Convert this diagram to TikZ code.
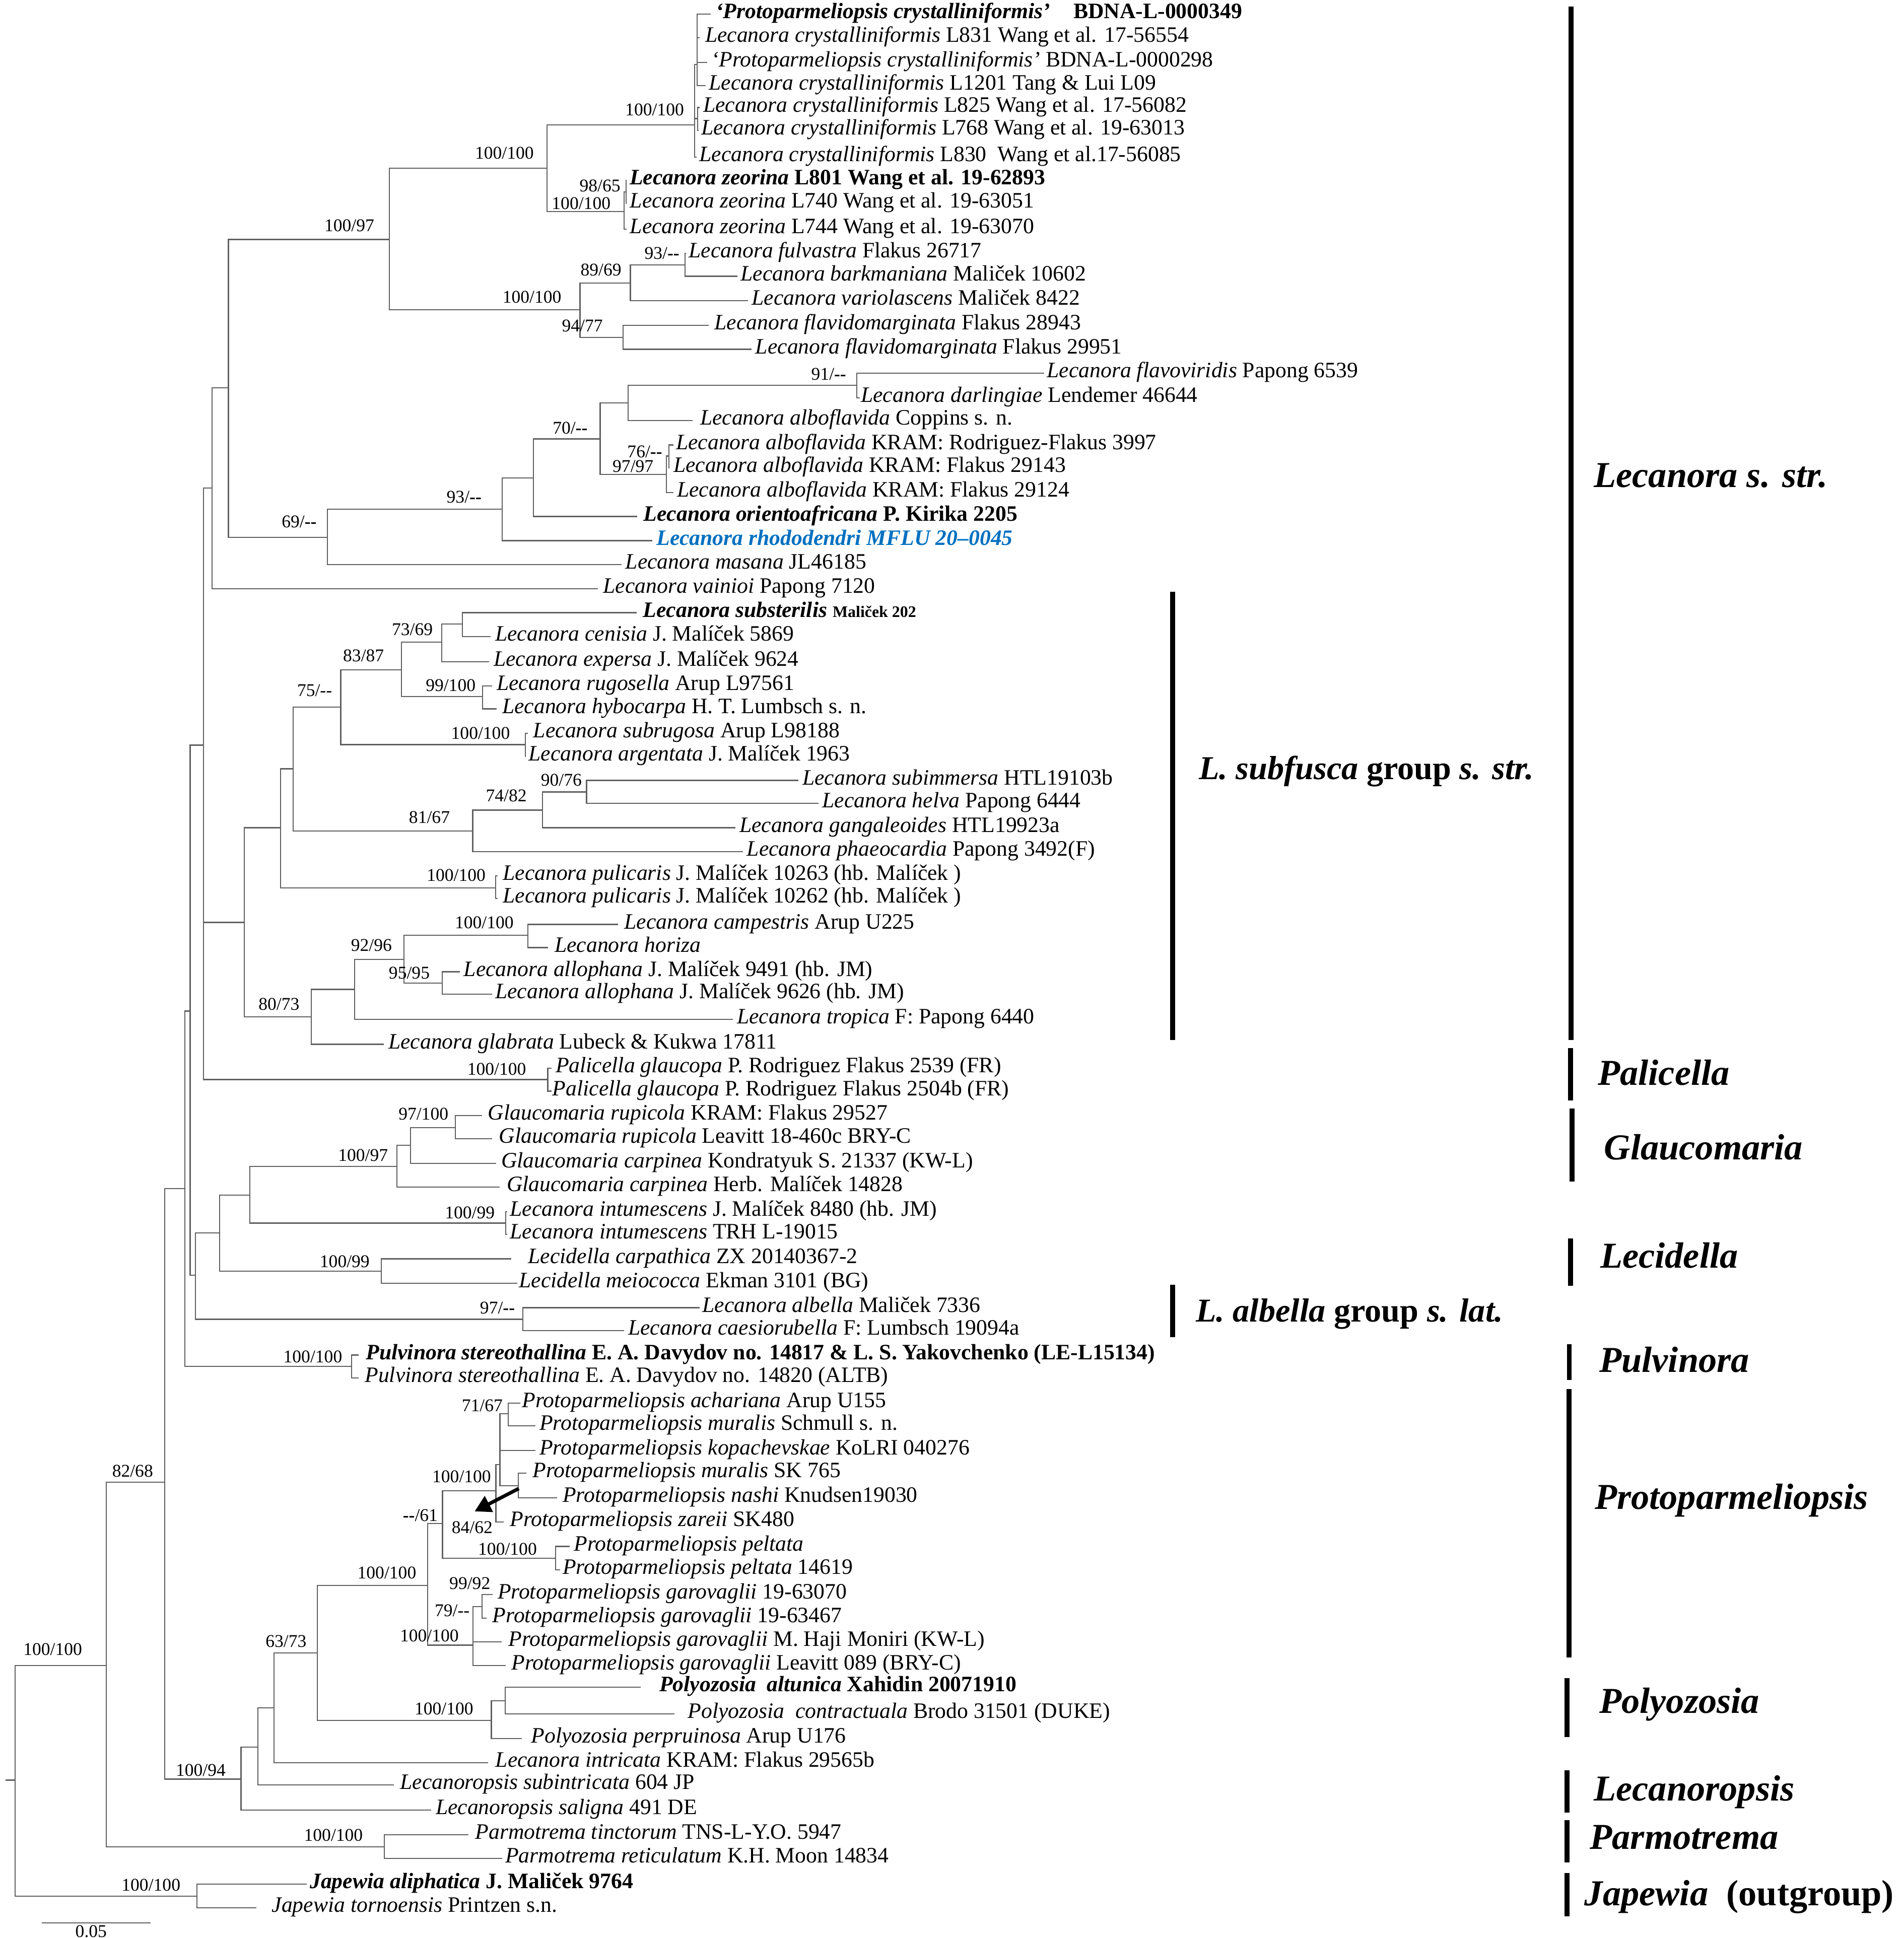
\documentclass[tikz,border=0pt]{standalone}
\usepackage{fontspec}
\setmainfont{Liberation Serif}
\usetikzlibrary{arrows.meta}
\definecolor{linkblue}{RGB}{0,112,192}
\definecolor{brc}{RGB}{95,95,95}
\tikzset{
 br/.style={draw=brc, line width=0.9pt},
 leaf/.style={anchor=base west, inner sep=0pt, font=\fontsize{17.8}{20}\selectfont},
 supp/.style={anchor=base east, inner sep=0pt, font=\fontsize{14.5}{17}\selectfont},
 grp/.style={anchor=base west, inner sep=0pt, font=\fontsize{29.5}{33}\selectfont\bfseries\itshape},
 grps/.style={anchor=base west, inner sep=0pt, font=\fontsize{27}{31}\selectfont\bfseries},
 grpbar/.style={line width=4pt, black},
}
\newcommand\myleaf[5]{\coordinate (#1) at (#2,#3);\node[leaf] (#1t) at (#4,#3+3.5) {#5};}
\newcommand\myedges[2]{\foreach \kid in {#2}{\draw[br] (#1) |- (\kid);}}
\newcommand\mysupv[4]{\node[supp] (#1) at (#2,#3) {#4};}
\newcommand\mydsh{\textbf{-{}-}}
\begin{document}
\begin{tikzpicture}[x=1pt,y=-1pt]
\useasboundingbox (0,0) rectangle (1540,1568);
% ---------------- leaves ----------------
\myleaf{L1}{575}{11.5}{579}{\textbf{\textit{‘Protoparmeliopsis crystalliniformis’}\hspace{0.8em} BDNA-L-0000349}}
\myleaf{L2}{566}{30.6}{570.3}{\textit{Lecanora crystalliniformis} L831 Wang et al. 17-56554}
\myleaf{L3}{572}{50.5}{575.5}{\textit{‘Protoparmeliopsis crystalliniformis’} BDNA-L-0000298}
\myleaf{L4}{571}{69.3}{573.4}{\textit{Lecanora crystalliniformis} L1201 Tang \& Lui L09}
\myleaf{L5}{566}{87}{568.7}{\textit{Lecanora crystalliniformis} L825 Wang et al. 17-56082}
\myleaf{L6}{565}{105.5}{567.1}{\textit{Lecanora crystalliniformis} L768 Wang et al. 19-63013}
\myleaf{L7}{563.5}{127}{565.6}{\textit{Lecanora crystalliniformis} L830\ \ Wang et al.17-56085}
\myleaf{L8}{507}{146}{509.2}{\textbf{\textit{Lecanora zeorina} L801 Wang et al. 19-62893}}
\myleaf{L9}{507}{164.5}{509.5}{\textit{Lecanora zeorina} L740 Wang et al. 19-63051}
\myleaf{L10}{507}{185.5}{509.5}{\textit{Lecanora zeorina} L744 Wang et al. 19-63070}
\myleaf{L11}{555}{205}{557}{\textit{Lecanora fulvastra} Flakus 26717}
\myleaf{L12}{596.4}{223.5}{599}{\textit{Lecanora barkmaniana} Maliček 10602}
\myleaf{L13}{605}{243.3}{608}{\textit{Lecanora variolascens} Maliček 8422}
\myleaf{L14}{573.5}{263.3}{577.8}{\textit{Lecanora flavidomarginata} Flakus 28943}
\myleaf{L15}{608}{282.6}{611}{\textit{Lecanora flavidomarginata} Flakus 29951}
\myleaf{L16}{844.7}{301.9}{846.8}{\textit{Lecanora flavoviridis} Papong 6539}
\myleaf{L17}{695.5}{321.8}{696.3}{\textit{Lecanora darlingiae} Lendemer 46644}
\myleaf{L18}{560.4}{340.2}{566.2}{\textit{Lecanora alboflavida} Coppins s. n.}
\myleaf{L19}{545}{360}{546.7}{\textit{Lecanora alboflavida} KRAM: Rodriguez-Flakus 3997}
\myleaf{L20}{541.5}{378.5}{544.6}{\textit{Lecanora alboflavida} KRAM: Flakus 29143}
\myleaf{L21}{545}{398.5}{547.5}{\textit{Lecanora alboflavida} KRAM: Flakus 29124}
\myleaf{L22}{515.5}{417.9}{520.5}{\textbf{\textit{Lecanora orientoafricana} P. Kirika 2205}}
\myleaf{L23}{527.8}{437.4}{530.9}{\color{linkblue}\textbf{\textit{Lecanora rhododendri MFLU 20–0045}}}
\myleaf{L24}{502.9}{456.9}{505.8}{\textit{Lecanora masana} JL46185}
\myleaf{L25}{483.5}{476.4}{487.8}{\textit{Lecanora vainioi} Papong 7120}
\myleaf{L26}{515}{495.7}{520.1}{\textbf{\textit{Lecanora substerilis}} {\fontsize{13}{15}\selectfont\textbf{Maliček 202}}}
\myleaf{L27}{396.7}{514.9}{400.4}{\textit{Lecanora cenisia} J. Malíček 5869}
\myleaf{L28}{395.5}{535.5}{399.2}{\textit{Lecanora expersa} J. Malíček 9624}
\myleaf{L29}{398}{555}{401.6}{\textit{Lecanora rugosella} Arup L97561}
\myleaf{L30}{401.7}{573.5}{406.1}{\textit{Lecanora hybocarpa} H. T. Lumbsch s. n.}
\myleaf{L31}{427}{593.2}{431.3}{\textit{Lecanora subrugosa} Arup L98188}
\myleaf{L32}{425.5}{612}{427.5}{\textit{Lecanora argentata} J. Malíček 1963}
\myleaf{L33}{646}{631.4}{649}{\textit{Lecanora subimmersa} HTL19103b}
\myleaf{L34}{662}{649.9}{665}{\textit{Lecanora helva} Papong 6444}
\myleaf{L35}{595}{669.7}{598}{\textit{Lecanora gangaleoides} HTL19923a}
\myleaf{L36}{601}{688.9}{604}{\textit{Lecanora phaeocardia} Papong 3492(F)}
\myleaf{L37}{402.5}{708.5}{406.6}{\textit{Lecanora pulicaris} J. Malíček 10263 (hb. Malíček )}
\myleaf{L38}{402.5}{727}{406.6}{\textit{Lecanora pulicaris} J. Malíček 10262 (hb. Malíček )}
\myleaf{L39}{500.1}{747.9}{504.8}{\textit{Lecanora campestris} Arup U225}
\myleaf{L40}{443.3}{766.7}{448.5}{\textit{Lecanora horiza}}
\myleaf{L41}{372}{786.2}{375}{\textit{Lecanora allophana} J. Malíček 9491 (hb. JM)}
\myleaf{L42}{398}{804.4}{400.4}{\textit{Lecanora allophana} J. Malíček 9626 (hb. JM)}
\myleaf{L43}{593}{824.7}{596}{\textit{Lecanora tropica} F: Papong 6440}
\myleaf{L44}{310.3}{844.9}{314}{\textit{Lecanora glabrata} Lubeck \& Kukwa 17811}
\myleaf{L45}{446}{864.2}{449.3}{\textit{Palicella glaucopa} P. Rodriguez Flakus 2539 (FR)}
\myleaf{L46}{446}{882.8}{446.8}{\textit{Palicella glaucopa} P. Rodriguez Flakus 2504b (FR)}
\myleaf{L47}{390}{902.5}{394.5}{\textit{Glaucomaria rupicola} KRAM: Flakus 29527}
\myleaf{L48}{398.2}{921.3}{403.6}{\textit{Glaucomaria rupicola} Leavitt 18-460c BRY-C}
\myleaf{L49}{401.2}{941.3}{405.3}{\textit{Glaucomaria carpinea} Kondratyuk S. 21337 (KW-L)}
\myleaf{L50}{404.4}{960.5}{409.8}{\textit{Glaucomaria carpinea} Herb. Malíček 14828}
\myleaf{L51}{410.5}{980.3}{412.3}{\textit{Lecanora intumescens} J. Malíček 8480 (hb. JM)}
\myleaf{L52}{410.5}{998.8}{412.3}{\textit{Lecanora intumescens} TRH L-19015}
\myleaf{L53}{413.5}{1018.5}{427.1}{\textit{Lecidella carpathica} ZX 20140367-2}
\myleaf{L54}{418.4}{1038.3}{419.7}{\textit{Lecidella meiococca} Ekman 3101 (BG)}
\myleaf{L55}{566}{1058}{568}{\textit{Lecanora albella} Maliček 7336}
\myleaf{L56}{505}{1076.5}{508}{\textit{Lecanora caesiorubella} F: Lumbsch 19094a}
\myleaf{L57}{290}{1096.3}{295.8}{\textbf{\textit{Pulvinora stereothallina} E. A. Davydov no. 14817 \& L. S. Yakovchenko (LE-L15134)}}
\myleaf{L58}{290}{1114.8}{295}{\textit{Pulvinora stereothallina} E. A. Davydov no. 14820 (ALTB)}
\myleaf{L59}{421}{1135.2}{422.2}{\textit{Protoparmeliopsis achariana} Arup U155}
\myleaf{L60}{433.3}{1153.7}{436.3}{\textit{Protoparmeliopsis muralis} Schmull s. n.}
\myleaf{L61}{433.3}{1173.5}{436.3}{\textit{Protoparmeliopsis kopachevskae} KoLRI 040276}
\myleaf{L62}{426}{1192}{430.8}{\textit{Protoparmeliopsis muralis} SK 765}
\myleaf{L63}{450.6}{1212}{455}{\textit{Protoparmeliopsis nashi} Knudsen19030}
\myleaf{L64}{407.4}{1231.5}{412.3}{\textit{Protoparmeliopsis zareii} SK480}
\myleaf{L65}{461}{1251.2}{464.2}{\textit{Protoparmeliopsis peltata}}
\myleaf{L66}{453}{1270}{455}{\textit{Protoparmeliopsis peltata} 14619}
\myleaf{L67}{398.7}{1290.2}{402.4}{\textit{Protoparmeliopsis garovaglii} 19-63070}
\myleaf{L68}{393.8}{1309.2}{398.3}{\textit{Protoparmeliopsis garovaglii} 19-63467}
\myleaf{L69}{406}{1328.5}{411.1}{\textit{Protoparmeliopsis garovaglii} M. Haji Moniri (KW-L)}
\myleaf{L70}{409}{1347.5}{413.6}{\textit{Protoparmeliopsis garovaglii} Leavitt 089 (BRY-C)}
\myleaf{L71}{518.5}{1365}{533.3}{\textbf{\textit{Polyozosia\ \ altunica} Xahidin 20071910}}
\myleaf{L72}{545.6}{1386.5}{556.2}{\textit{Polyozosia\ \ contractuala} Brodo 31501 (DUKE)}
\myleaf{L73}{422.2}{1406.7}{429.6}{\textit{Polyozosia perpruinosa} Arup U176}
\myleaf{L74}{395}{1426.2}{400.7}{\textit{Lecanora intricata} KRAM: Flakus 29565b}
\myleaf{L75}{318.5}{1444}{323.5}{\textit{Lecanoropsis subintricata} 604 JP}
\myleaf{L76}{349}{1464.4}{352.3}{\textit{Lecanoropsis saligna} 491 DE}
\myleaf{L77}{379}{1484.6}{384.4}{\textit{Parmotrema tinctorum} TNS-L-Y.O. 5947}
\myleaf{L78}{406.2}{1503.5}{408.6}{\textit{Parmotrema reticulatum} K.H. Moon 14834}
\myleaf{L79}{248}{1524.5}{250.5}{\textbf{\textit{Japewia aliphatica} J. Maliček 9764}}
\myleaf{L80}{207.3}{1543.5}{219.7}{\textit{Japewia tornoensis} Printzen s.n.}
% ---------------- internal nodes ----------------
\coordinate (rootstem) at (4.4,1440.2);
\coordinate (root) at (12.3,1440.2);
\coordinate (jap) at (159.2,1534);
\coordinate (n82) at (85.9,1347.4);
\coordinate (parm) at (310.8,1494.2);
\coordinate (n133) at (133.4,1199.3);
\coordinate (n195) at (195,1439.4);
\coordinate (n208) at (208.6,1413.5);
\coordinate (n221) at (221.7,1381.9);
\coordinate (n256) at (256.7,1337.5);
\coordinate (poly) at (397.5,1392.1);
\coordinate (n408) at (408.6,1376);
\coordinate (n346) at (346,1282.7);
\coordinate (n382) at (382.7,1331);
\coordinate (n390) at (390.1,1299.7);
\coordinate (n358) at (358,1232.7);
\coordinate (pelt) at (449.3,1260.6);
\coordinate (n401) at (401.2,1206.3);
\coordinate (n404) at (404.4,1185);
\coordinate (n411) at (411.1,1143.9);
\coordinate (n419) at (419.2,1202);
\coordinate (n150) at (149.6,961.6);
\coordinate (pulv) at (284.4,1105.6);
\coordinate (n154) at (153.8,818);
\coordinate (n165) at (164.7,602.9);
\coordinate (n158) at (158.2,1031.8);
\coordinate (n178) at (177.8,997.4);
\coordinate (n202) at (202,967);
\coordinate (glc) at (321,943.7);
\coordinate (n332) at (332,926.7);
\coordinate (n368) at (368.3,912.4);
\coordinate (intu) at (409,989.6);
\coordinate (lcd) at (308.6,1028.4);
\coordinate (n423) at (422.9,1067.4);
\coordinate (pali) at (443.1,873.4);
\coordinate (n172) at (171.5,394.8);
\coordinate (n185) at (184.8,313.8);
\coordinate (n315) at (314.9,193.8);
\coordinate (n443) at (442.6,136);
\coordinate (n562) at (561.8,101.2);
\coordinate (s1) at (564,52.3);
\coordinate (s2) at (564.5,96);
\coordinate (zeo) at (504.9,171.2);
\coordinate (z1) at (506.5,155.2);
\coordinate (n469) at (469.2,250.6);
\coordinate (n510) at (510,228.9);
\coordinate (n554) at (554.1,214.3);
\coordinate (n504) at (504,273);
\coordinate (n265) at (264.9,434.8);
\coordinate (n406) at (406.3,412);
\coordinate (n431) at (431.5,386.8);
\coordinate (n485) at (485.5,355.1);
\coordinate (n508) at (508.2,325.9);
\coordinate (n693) at (693,311.6);
\coordinate (n539) at (539.2,383.9);
\coordinate (s76) at (541,369);
\coordinate (n198) at (197.5,746.3);
\coordinate (n227) at (226.9,669.7);
\coordinate (pul) at (401.1,718.3);
\coordinate (n237) at (237,622);
\coordinate (n382b) at (382.4,672.4);
\coordinate (n439) at (438.7,655.4);
\coordinate (n474) at (474.5,640.8);
\coordinate (n276) at (275.7,572.2);
\coordinate (n425) at (425.1,602.5);
\coordinate (n325) at (324.6,541.8);
\coordinate (n390b) at (390.5,563.5);
\coordinate (n357) at (357.2,519.6);
\coordinate (n374) at (374,505);
\coordinate (n252) at (251.8,822.7);
\coordinate (n287) at (286.9,800.5);
\coordinate (n327) at (326.8,776.3);
\coordinate (n427) at (427.1,756.8);
\coordinate (n358b) at (357.7,795.5);
% ---------------- branches ----------------
\draw[br] (rootstem) -- (root);
\myedges{root}{n82,jap}
\myedges{jap}{L79,L80}
\myedges{n82}{n133,parm}
\myedges{parm}{L77,L78}
\myedges{n133}{n150,n195}
\myedges{n195}{n208,L76}
\myedges{n208}{n221,L75}
\myedges{n221}{n256,L74}
\myedges{n256}{n346,poly}
\myedges{poly}{n408,L73}
\myedges{n408}{L71,L72}
\myedges{n346}{n358,n382}
\myedges{n382}{n390,L69,L70}
\myedges{n390}{L67,L68}
\myedges{n358}{n401,pelt}
\myedges{pelt}{L65,L66}
\myedges{n401}{n404,L64}
\myedges{n404}{n411,L61,n419}
\myedges{n411}{L59,L60}
\myedges{n419}{L62,L63}
\myedges{n150}{n154,pulv}
\myedges{pulv}{L57,L58}
\myedges{n154}{n165,n158}
\myedges{n158}{n178,n423}
\myedges{n178}{n202,lcd}
\myedges{n202}{glc,intu}
\myedges{glc}{n332,L50}
\myedges{n332}{n368,L49}
\myedges{n368}{L47,L48}
\myedges{intu}{L51,L52}
\myedges{lcd}{L53,L54}
\myedges{n423}{L55,L56}
\myedges{n165}{n172,n198,pali}
\myedges{pali}{L45,L46}
\myedges{n172}{n185,L25}
\myedges{n185}{n315,n265}
\myedges{n315}{n443,n469}
\myedges{n443}{n562,zeo}
\myedges{n562}{s1,s2,L7}
\myedges{s1}{L1,L2,L3,L4}
\myedges{s2}{L5,L6}
\myedges{zeo}{z1,L10}
\myedges{z1}{L8,L9}
\myedges{n469}{n510,n504}
\myedges{n510}{n554,L13}
\myedges{n554}{L11,L12}
\myedges{n504}{L14,L15}
\myedges{n265}{n406,L24}
\myedges{n406}{n431,L23}
\myedges{n431}{n485,L22}
\myedges{n485}{n508,n539}
\myedges{n508}{n693,L18}
\myedges{n693}{L16,L17}
\myedges{n539}{s76,L21}
\myedges{s76}{L19,L20}
\myedges{n198}{n227,n252}
\myedges{n227}{n237,pul}
\myedges{pul}{L37,L38}
\myedges{n237}{n276,n382b}
\myedges{n382b}{n439,L36}
\myedges{n439}{n474,L35}
\myedges{n474}{L33,L34}
\myedges{n276}{n325,n425}
\myedges{n425}{L31,L32}
\myedges{n325}{n357,n390b}
\myedges{n390b}{L29,L30}
\myedges{n357}{n374,L28}
\myedges{n374}{L26,L27}
\myedges{n252}{n287,L44}
\myedges{n287}{n327,L43}
\myedges{n327}{n427,n358b}
\myedges{n427}{L39,L40}
\myedges{n358b}{L41,L42}
% ---------------- support values ----------------
\mysupv{s01}{553.5}{93.5}{100/100}
\mysupv{s02}{432}{128.6}{100/100}
\mysupv{s03}{302.9}{187.1}{100/97}
\mysupv{s04}{502.1}{155.1}{98/65}
\mysupv{s05}{494.1}{169.2}{100/100}
\mysupv{s06}{549.8}{209.7}{93/\mydsh}
\mysupv{s07}{502.9}{223}{89/69}
\mysupv{s08}{454.3}{244.9}{100/100}
\mysupv{s09}{487.8}{268.3}{94/77}
\mysupv{s10}{684.7}{307.6}{91/\mydsh}
\mysupv{s11}{475.5}{350.9}{70/\mydsh}
\mysupv{s12}{535.9}{370}{76/\mydsh}
\mysupv{s13}{528.8}{382.2}{97/97}
\mysupv{s14}{389.7}{407}{93/\mydsh}
\mysupv{s15}{256.3}{426.8}{69/\mydsh}
\mysupv{s16}{350.3}{514.2}{73/69}
\mysupv{s17}{310.8}{535.1}{83/87}
\mysupv{s18}{268.8}{563.5}{75/-{}-}
\mysupv{s19}{384.9}{559.3}{99/100}
\mysupv{s20}{412.7}{598.1}{100/100}
\mysupv{s21}{470.8}{635.9}{90/76}
\mysupv{s22}{426.3}{648.7}{74/82}
\mysupv{s23}{364.1}{666}{81/67}
\mysupv{s24}{393}{712.9}{100/100}
\mysupv{s25}{415.7}{751.1}{100/100}
\mysupv{s26}{317.2}{769.6}{92/96}
\mysupv{s27}{347.8}{791.9}{95/95}
\mysupv{s28}{242.4}{817}{80/73}
\mysupv{s29}{425.8}{869.9}{100/100}
\mysupv{s30}{362.9}{906.2}{97/100}
\mysupv{s31}{314}{939.5}{100/97}
\mysupv{s32}{400.4}{985.9}{100/99}
\mysupv{s33}{299.2}{1025.4}{100/99}
\mysupv{s34}{416.7}{1062.9}{97/\mydsh}
\mysupv{s35}{277}{1102.4}{100/100}
\mysupv{s36}{406.8}{1141.9}{71/67}
\mysupv{s37}{397.4}{1199.4}{100/100}
\mysupv{s38}{354.3}{1230.8}{\mydsh/61}
\mysupv{s39}{398.7}{1240.7}{84/62}
\mysupv{s40}{124}{1195}{82/68}
\mysupv{s41}{66.6}{1339}{100/100}
\mysupv{s42}{182.7}{1437}{100/94}
\mysupv{s43}{248.1}{1332.6}{63/73}
\mysupv{s44}{336.9}{1277.3}{100/100}
\mysupv{s45}{380.1}{1308}{79/-{}-}
\mysupv{s46}{371.3}{1328}{100/100}
\mysupv{s47}{396.8}{1285.8}{99/92}
\mysupv{s48}{434.5}{1258.1}{100/100}
\mysupv{s49}{383.1}{1387.3}{100/100}
\mysupv{s50}{293.7}{1489.6}{100/100}
\mysupv{s51}{146.1}{1530}{100/100}
% ---------------- arrow ----------------
\coordinate (arrS) at (419.7,1204.3);
\coordinate (arrE) at (384,1222.8);
\draw[line width=2.8pt, -{Triangle[length=13pt,width=14pt]}] (arrS) -- (arrE);
% ---------------- scale bar ----------------
\coordinate (sbA) at (33.8,1555.9);
\coordinate (sbB) at (121.7,1555.9);
\draw[br] (sbA) -- (sbB);
\node[anchor=base, inner sep=0pt, font=\fontsize{14.5}{17}\selectfont] (sbl) at (73.7,1567.5) {0.05};
% ---------------- group bars ----------------
\draw[grpbar] (1271,5.1) -- (1271,841.5);
\draw[grpbar] (948.5,478.9) -- (948.5,841.5);
\draw[grpbar] (1270.5,848.1) -- (1270.5,890.5);
\draw[grpbar] (1271.8,896.8) -- (1271.8,955.8);
\draw[grpbar] (1270.5,1002) -- (1270.5,1040.2);
\draw[grpbar] (948.5,1039.4) -- (948.5,1081.8);
\draw[grpbar] (1269.5,1087.4) -- (1269.5,1116.3);
\draw[grpbar] (1269.4,1123.8) -- (1269.4,1341.1);
\draw[grpbar] (1267.5,1357.6) -- (1267.5,1405.5);
\draw[grpbar] (1267.5,1432.3) -- (1267.5,1466.5);
\draw[grpbar] (1267.5,1472.8) -- (1267.5,1507);
\draw[grpbar] (1267.5,1515.4) -- (1267.5,1550.3);
% ---------------- group labels ----------------
\node[grp] (gLec) at (1289.2,394.4) {Lecanora s. str.};
\node[grps] (gSub) at (969.6,630.7) {\textit{L. subfusca} group \textit{s. str.}};
\node[grp] (gPal) at (1292.4,878.1) {Palicella};
\node[grp] (gGla) at (1297.6,938.4) {Glaucomaria};
\node[grp] (gLcd) at (1294.4,1025.7) {Lecidella};
\node[grps] (gAlb) at (967.2,1069.3) {\textit{L. albella} group \textit{s. lat.}};
\node[grp] (gPul) at (1293.6,1110.1) {Pulvinora};
\node[grp] (gPro) at (1289.9,1221.2) {Protoparmeliopsis};
\node[grp] (gPol) at (1293.6,1386.2) {Polyozosia};
\node[grp] (gLcp) at (1289.2,1456.9) {Lecanoropsis};
\node[grp] (gPar) at (1286,1496.1) {Parmotrema};
\node[grp] (gJap) at (1281.7,1541.9) {Japewia\ \ \textup{(outgroup)}};
\end{tikzpicture}
\end{document}
